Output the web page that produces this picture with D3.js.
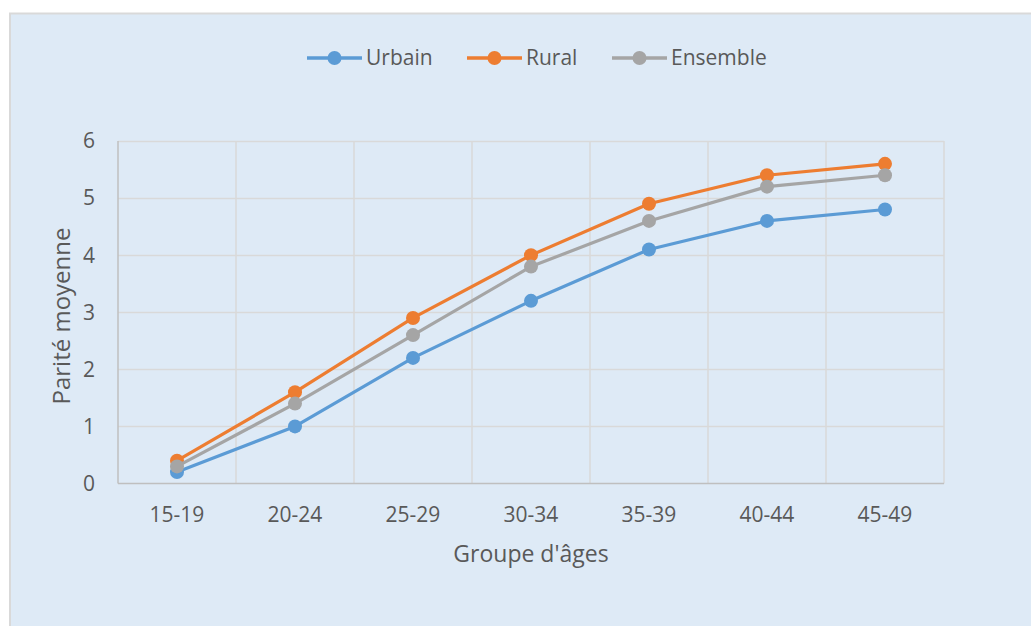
<!DOCTYPE html>
<html>
<head>
<meta charset="utf-8">
<script src="https://cdn.jsdelivr.net/npm/d3@7"></script>
<style>
  html, body { margin: 0; padding: 0; background: #ffffff; }
  svg { display: block; }
  text { font-family: "Open Sans", "Noto Sans", sans-serif; fill: #595959; }
</style>
</head>
<body>
<svg id="chart" width="1031" height="626"></svg>
<script>
// Parité moyenne par groupe d'âges, selon le milieu de résidence
const categories = ["15-19", "20-24", "25-29", "30-34", "35-39", "40-44", "45-49"];
const urbain   = [0.2, 1.0, 2.2, 3.2, 4.1, 4.6, 4.8];
const rural    = [0.4, 1.6, 2.9, 4.0, 4.9, 5.4, 5.6];
const ensemble = [0.3, 1.4, 2.6, 3.8, 4.6, 5.2, 5.4];
const yTicks   = [0, 1, 2, 3, 4, 5, 6];
const seriesNames = ["Urbain", "Rural", "Ensemble"];

const series = [
  { name: seriesNames[0], values: urbain,   color: "#5B9BD5" },
  { name: seriesNames[1], values: rural,    color: "#ED7D31" },
  { name: seriesNames[2], values: ensemble, color: "#A5A5A5" }
];

const svg = d3.select("#chart");

// chart background panel
svg.append("rect")
  .attr("x", 10).attr("y", 13.5)
  .attr("width", 1040).attr("height", 640)
  .attr("fill", "#DEEAF6")
  .attr("stroke", "#D9D9D9").attr("stroke-width", 2);

const plot = { left: 118, right: 944, top: 141, bottom: 483.5 };

const x = d3.scaleBand().domain(categories).range([plot.left, plot.right]).padding(0);
const y = d3.scaleLinear().domain([0, 6]).range([plot.bottom, plot.top]);

// horizontal gridlines
svg.append("g").selectAll("line")
  .data(yTicks.filter(d => d > 0))
  .join("line")
  .attr("x1", plot.left).attr("x2", plot.right)
  .attr("y1", d => Math.round(y(d)) + 0.5).attr("y2", d => Math.round(y(d)) + 0.5)
  .attr("stroke", "#D9D9D9").attr("stroke-width", 1.5);

// vertical gridlines at category boundaries
const bounds = categories.map(c => x(c)).concat([x(categories[categories.length - 1]) + x.bandwidth()]);
svg.append("g").selectAll("line")
  .data(bounds.slice(1))
  .join("line")
  .attr("x1", d => d).attr("x2", d => d)
  .attr("y1", plot.top).attr("y2", plot.bottom)
  .attr("stroke", "#D9D9D9").attr("stroke-width", 1.5);

// axis lines
svg.append("line")
  .attr("x1", plot.left).attr("x2", plot.left)
  .attr("y1", plot.top).attr("y2", plot.bottom)
  .attr("stroke", "#BFBFBF").attr("stroke-width", 1.5);
svg.append("line")
  .attr("x1", plot.left).attr("x2", plot.right)
  .attr("y1", plot.bottom).attr("y2", plot.bottom)
  .attr("stroke", "#BFBFBF").attr("stroke-width", 1.5);

// y tick labels
svg.append("g").selectAll("text")
  .data(yTicks)
  .join("text")
  .attr("x", 95)
  .attr("y", d => y(d))
  .attr("dy", "0.35em")
  .attr("text-anchor", "end")
  .attr("font-size", 21)
  .text(d => d);

// x tick labels
svg.append("g").selectAll("text")
  .data(categories)
  .join("text")
  .attr("x", d => x(d) + x.bandwidth() / 2)
  .attr("y", 522)
  .attr("text-anchor", "middle")
  .attr("font-size", 21)
  .text(d => d);

// axis titles
svg.append("text")
  .attr("x", (plot.left + plot.right) / 2)
  .attr("y", 562)
  .attr("text-anchor", "middle")
  .attr("font-size", 23)
  .text("Groupe d'âges");

svg.append("text")
  .attr("transform", "translate(70,316) rotate(-90)")
  .attr("text-anchor", "middle")
  .attr("font-size", 24)
  .text("Parité moyenne");

// series lines and markers
const line = d3.line()
  .x((d, i) => x(categories[i]) + x.bandwidth() / 2)
  .y(d => y(d));

series.forEach(s => {
  const g = svg.append("g");
  g.append("path")
    .attr("d", line(s.values))
    .attr("fill", "none")
    .attr("stroke", s.color)
    .attr("stroke-width", 3.2)
    .attr("stroke-linejoin", "round");
  g.selectAll("circle")
    .data(s.values)
    .join("circle")
    .attr("cx", (d, i) => x(categories[i]) + x.bandwidth() / 2)
    .attr("cy", d => y(d))
    .attr("r", 7)
    .attr("fill", s.color);
});

// legend
const legendX = [307, 467, 612];
const legend = svg.append("g");
series.forEach((s, i) => {
  const lg = legend.append("g").attr("transform", `translate(${legendX[i]},58)`);
  lg.append("line")
    .attr("x1", 0).attr("x2", 55)
    .attr("y1", 0).attr("y2", 0)
    .attr("stroke", s.color).attr("stroke-width", 3.5);
  lg.append("circle").attr("cx", 27.5).attr("cy", 0).attr("r", 7).attr("fill", s.color);
  lg.append("text")
    .attr("x", 59).attr("y", 0).attr("dy", "0.35em")
    .attr("font-size", 21)
    .text(s.name);
});
</script>
</body>
</html>
